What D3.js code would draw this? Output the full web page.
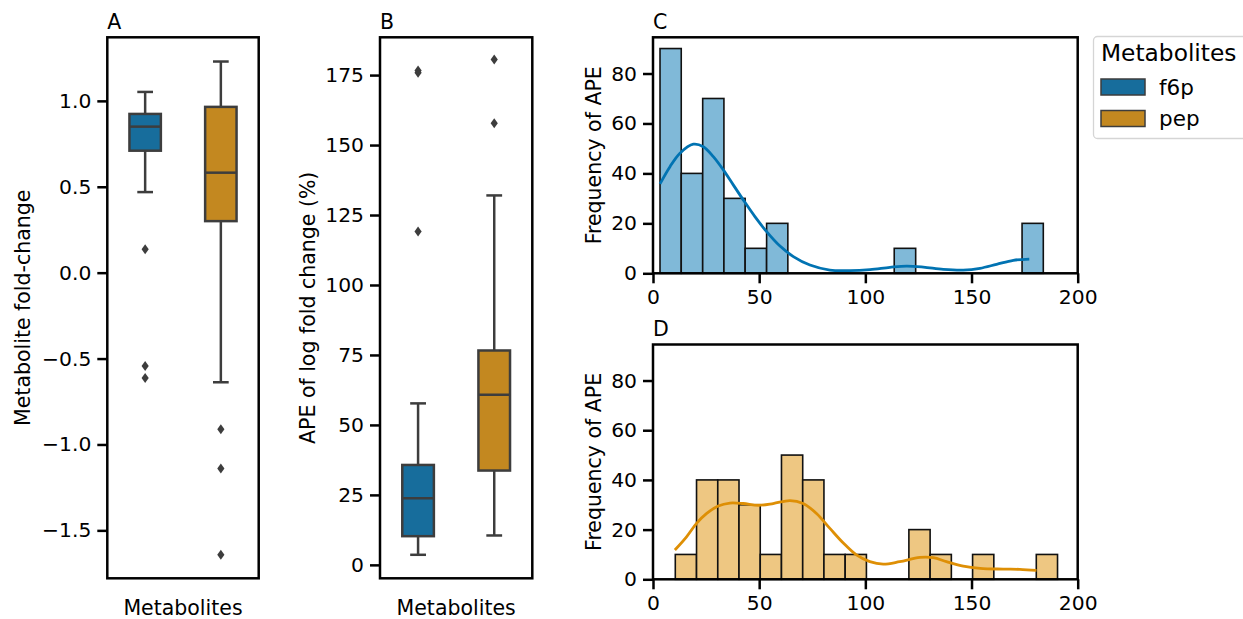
<!DOCTYPE html>
<html>
<head>
<meta charset="utf-8">
<script src="https://cdn.jsdelivr.net/npm/d3@7"></script>
<style>
  body { margin: 0; background: #fff; }
  text { font-family: "DejaVu Sans", sans-serif; }
</style>
</head>
<body>
<div id="chart"></div>
<script>
// Metabolites (hue)
const hues = ["f6p", "pep"];
const boxColors = ["#176d9c", "#c38820"];
const histColors = ["#80b9d8", "#eec782"];
const kdeColors = ["#0173b2", "#de8f05"];

// Panel A: metabolite fold-change box stats, per hue
const foldWhiskLo = [0.469, -0.638];
const foldQ1 = [0.71, 0.30];
const foldMedian = [0.85, 0.582];
const foldQ3 = [0.924, 0.965];
const foldWhiskHi = [1.052, 1.229];
const foldOutliers = [[0.136, -0.543, -0.613], [-0.911, -1.140, -1.642]];
const foldTicks = [-1.5, -1.0, -0.5, 0.0, 0.5, 1.0];

// Panel B: APE of log fold change box stats, per hue
const apeWhiskLo = [3.6, 10.5];
const apeQ1 = [10.25, 33.7];
const apeMedian = [23.8, 60.8];
const apeQ3 = [35.7, 76.6];
const apeWhiskHi = [57.7, 132.0];
const apeOutliers = [[176.6, 175.8, 119.1], [180.6, 157.8]];
const apeTicks = [0, 25, 50, 75, 100, 125, 150, 175];

// Panel C: f6p APE histogram
const cEdges = [3.3, 13.3, 23.4, 33.4, 43.4, 53.5, 63.5, 73.5, 83.5, 93.6, 103.6, 113.6, 123.7, 133.7, 143.7, 153.8, 163.8, 173.8, 183.8];
const cCounts = [90, 40, 70, 30, 10, 20, 0, 0, 0, 0, 0, 10, 0, 0, 0, 0, 0, 20];
const cKdeX = [3.3, 8.0, 12.7, 19.0, 23.7, 28.4, 33.1, 37.8, 42.5, 48.0, 53.5, 59.8, 66.1, 73.9, 83.3, 92.7, 102.2, 111.6, 119.4, 127.3, 136.7, 146.1, 154.0, 161.8, 169.7, 177.2];
const cKdeY = [35.8, 42.7, 48.1, 51.7, 50.7, 46.7, 41.4, 35.4, 29.4, 22.7, 16.7, 10.9, 6.7, 3.3, 1.3, 1.1, 1.5, 2.4, 2.9, 2.5, 1.6, 1.3, 2.0, 3.6, 5.2, 5.7];

// Panel D: pep APE histogram
const dEdges = [10.5, 20.5, 30.5, 40.5, 50.5, 60.5, 70.5, 80.5, 90.5, 100.5, 110.5, 120.5, 130.5, 140.5, 150.5, 160.5, 170.5, 180.5, 190.5];
const dCounts = [10, 40, 40, 30, 10, 50, 40, 10, 10, 0, 0, 20, 10, 0, 10, 0, 0, 10];
const dKdeX = [10.3, 15.8, 20.5, 25.3, 30.7, 36.2, 42.5, 49.6, 56.6, 64.5, 70.7, 77.0, 83.3, 89.5, 95.8, 102.1, 108.4, 116.2, 125.7, 132.0, 138.2, 146.1, 154.0, 164.9, 172.7, 180.6];
const dKdeY = [11.8, 17.1, 22.5, 26.5, 29.5, 30.7, 30.5, 29.8, 30.5, 31.7, 30.5, 26.5, 20.5, 14.7, 9.8, 7.1, 6.1, 7.1, 8.8, 8.7, 7.1, 5.3, 4.4, 4.1, 4.0, 3.6];

const histXTicks = [0, 50, 100, 150, 200];
const histYTicks = [0, 20, 40, 60, 80];

const W = 1243, H = 619;
const lineGray = "#3d3d3d";
const tickFont = 20.3;
const labelFont = 20.5;

const svg = d3.select("#chart").append("svg")
  .attr("width", W)
  .attr("height", H);

function styleAxis(g) {
  g.select(".domain").remove();
  g.selectAll(".tick line").attr("stroke", "#000").attr("stroke-width", 2.5);
  g.selectAll(".tick text")
    .attr("fill", "#000")
    .attr("font-size", tickFont)
    .attr("font-family", "DejaVu Sans");
}

function frame(x0, x1, y0, y1) {
  svg.append("rect")
    .attr("x", x0).attr("y", y0)
    .attr("width", x1 - x0).attr("height", y1 - y0)
    .attr("fill", "none")
    .attr("stroke", "#000")
    .attr("stroke-width", 2.5);
}

function panelTitle(x, y, t) {
  svg.append("text")
    .attr("x", x).attr("y", y)
    .attr("font-size", labelFont)
    .text(t);
}

function yLabel(x, yc, t) {
  svg.append("text")
    .attr("transform", "translate(" + x + "," + yc + ") rotate(-90)")
    .attr("text-anchor", "middle")
    .attr("font-size", labelFont)
    .text(t);
}

// box panel (A and B)
function boxPanel(opt) {
  const { x0, x1, y0, y1, domain, ticks, fmt, lo, q1, med, q3, hi, outl } = opt;
  const y = d3.scaleLinear().domain(domain).range([y1, y0]);
  const x = d3.scalePoint().domain(hues).range([x0, x1]).padding(0.5);
  const bw = x.step() * 0.415;

  const g = svg.append("g");
  hues.forEach((h, i) => {
    const cx = x(h);
    // whiskers
    g.append("line").attr("x1", cx).attr("x2", cx)
      .attr("y1", y(lo[i])).attr("y2", y(q1[i]))
      .attr("stroke", lineGray).attr("stroke-width", 2.5);
    g.append("line").attr("x1", cx).attr("x2", cx)
      .attr("y1", y(q3[i])).attr("y2", y(hi[i]))
      .attr("stroke", lineGray).attr("stroke-width", 2.5);
    // caps
    [lo[i], hi[i]].forEach(v => {
      g.append("line").attr("x1", cx - bw / 4).attr("x2", cx + bw / 4)
        .attr("y1", y(v)).attr("y2", y(v))
        .attr("stroke", lineGray).attr("stroke-width", 2.5);
    });
    // box
    g.append("rect")
      .attr("x", cx - bw / 2).attr("width", bw)
      .attr("y", y(q3[i])).attr("height", y(q1[i]) - y(q3[i]))
      .attr("fill", boxColors[i])
      .attr("stroke", lineGray).attr("stroke-width", 2.5);
    // median
    g.append("line").attr("x1", cx - bw / 2).attr("x2", cx + bw / 2)
      .attr("y1", y(med[i])).attr("y2", y(med[i]))
      .attr("stroke", lineGray).attr("stroke-width", 2.5);
    // outliers (thin diamonds)
    g.selectAll(null).data(outl[i]).enter().append("path")
      .attr("d", "M0,-5L3.6,0L0,5L-3.6,0Z")
      .attr("transform", v => "translate(" + cx + "," + y(v) + ")")
      .attr("fill", lineGray);
  });

  const ax = svg.append("g")
    .attr("transform", "translate(" + x0 + ",0)")
    .call(d3.axisLeft(y).tickValues(ticks).tickSize(10).tickPadding(6).tickFormat(fmt));
  styleAxis(ax);
  frame(x0, x1, y0, y1);

  svg.append("text")
    .attr("x", (x0 + x1) / 2).attr("y", 614.5)
    .attr("text-anchor", "middle")
    .attr("font-size", labelFont)
    .text("Metabolites");
}

// histogram panel (C and D)
function histPanel(opt) {
  const { y0, y1, edges, counts, kx, ky, i } = opt;
  const x0 = 653, x1 = 1077.7;
  const x = d3.scaleLinear().domain([0, 200]).range([x0, x1]);
  const y = d3.scaleLinear().domain([0, 94.5]).range([y1, y0]);

  const bins = counts.map((c, k) => ({ a: edges[k], b: edges[k + 1], c: c })).filter(d => d.c > 0);
  svg.append("g").selectAll("rect").data(bins).enter().append("rect")
    .attr("x", d => x(d.a))
    .attr("width", d => x(d.b) - x(d.a))
    .attr("y", d => y(d.c))
    .attr("height", d => y(0) - y(d.c))
    .attr("fill", histColors[i])
    .attr("stroke", "#111")
    .attr("stroke-width", 1.6);

  const pts = kx.map((v, k) => [v, ky[k]]);
  svg.append("path")
    .datum(pts)
    .attr("d", d3.line().x(d => x(d[0])).y(d => y(d[1])).curve(d3.curveCatmullRom))
    .attr("fill", "none")
    .attr("stroke", kdeColors[i])
    .attr("stroke-width", 2.8);

  const gx = svg.append("g")
    .attr("transform", "translate(0," + y1 + ")")
    .call(d3.axisBottom(x).tickValues(histXTicks).tickSize(10).tickPadding(6));
  styleAxis(gx);
  const gy = svg.append("g")
    .attr("transform", "translate(" + x0 + ",0)")
    .call(d3.axisLeft(y).tickValues(histYTicks).tickSize(10).tickPadding(6));
  styleAxis(gy);
  frame(x0, x1, y0, y1);
  yLabel(601, (y0 + y1) / 2, "Frequency of APE");
}

// A
boxPanel({
  x0: 107.3, x1: 258.7, y0: 37.3, y1: 578.3,
  domain: [-1.779, 1.370], ticks: foldTicks, fmt: d3.format(".1f"),
  lo: foldWhiskLo, q1: foldQ1, med: foldMedian, q3: foldQ3, hi: foldWhiskHi, outl: foldOutliers
});
panelTitle(107.3, 29, "A");
yLabel(30, 307.8, "Metabolite fold-change");

// B
boxPanel({
  x0: 380, x1: 532.3, y0: 37.3, y1: 578.3,
  domain: [-4.8, 188.5], ticks: apeTicks, fmt: d3.format("d"),
  lo: apeWhiskLo, q1: apeQ1, med: apeMedian, q3: apeQ3, hi: apeWhiskHi, outl: apeOutliers
});
panelTitle(380, 29, "B");
yLabel(315, 307.8, "APE of log fold change (%)");

// C
histPanel({ y0: 37.3, y1: 273.3, edges: cEdges, counts: cCounts, kx: cKdeX, ky: cKdeY, i: 0 });
panelTitle(653, 29, "C");

// D
histPanel({ y0: 344.5, y1: 579.3, edges: dEdges, counts: dCounts, kx: dKdeX, ky: dKdeY, i: 1 });
panelTitle(653, 336, "D");

// legend
const leg = svg.append("g");
leg.append("rect")
  .attr("x", 1093.5).attr("y", 36.5)
  .attr("width", 160).attr("height", 102)
  .attr("rx", 4)
  .attr("fill", "#fff")
  .attr("stroke", "#d5d5d5")
  .attr("stroke-width", 1.3);
leg.append("text")
  .attr("x", 1101).attr("y", 61)
  .attr("font-size", 23.3)
  .text("Metabolites");
hues.forEach((h, i) => {
  const yy = 79 + i * 31.5;
  leg.append("rect")
    .attr("x", 1101).attr("y", yy)
    .attr("width", 44).attr("height", 16)
    .attr("fill", boxColors[i])
    .attr("stroke", lineGray).attr("stroke-width", 1.5);
  leg.append("text")
    .attr("x", 1159).attr("y", yy + 15.5)
    .attr("font-size", 21.5)
    .text(h);
});
</script>
</body>
</html>
